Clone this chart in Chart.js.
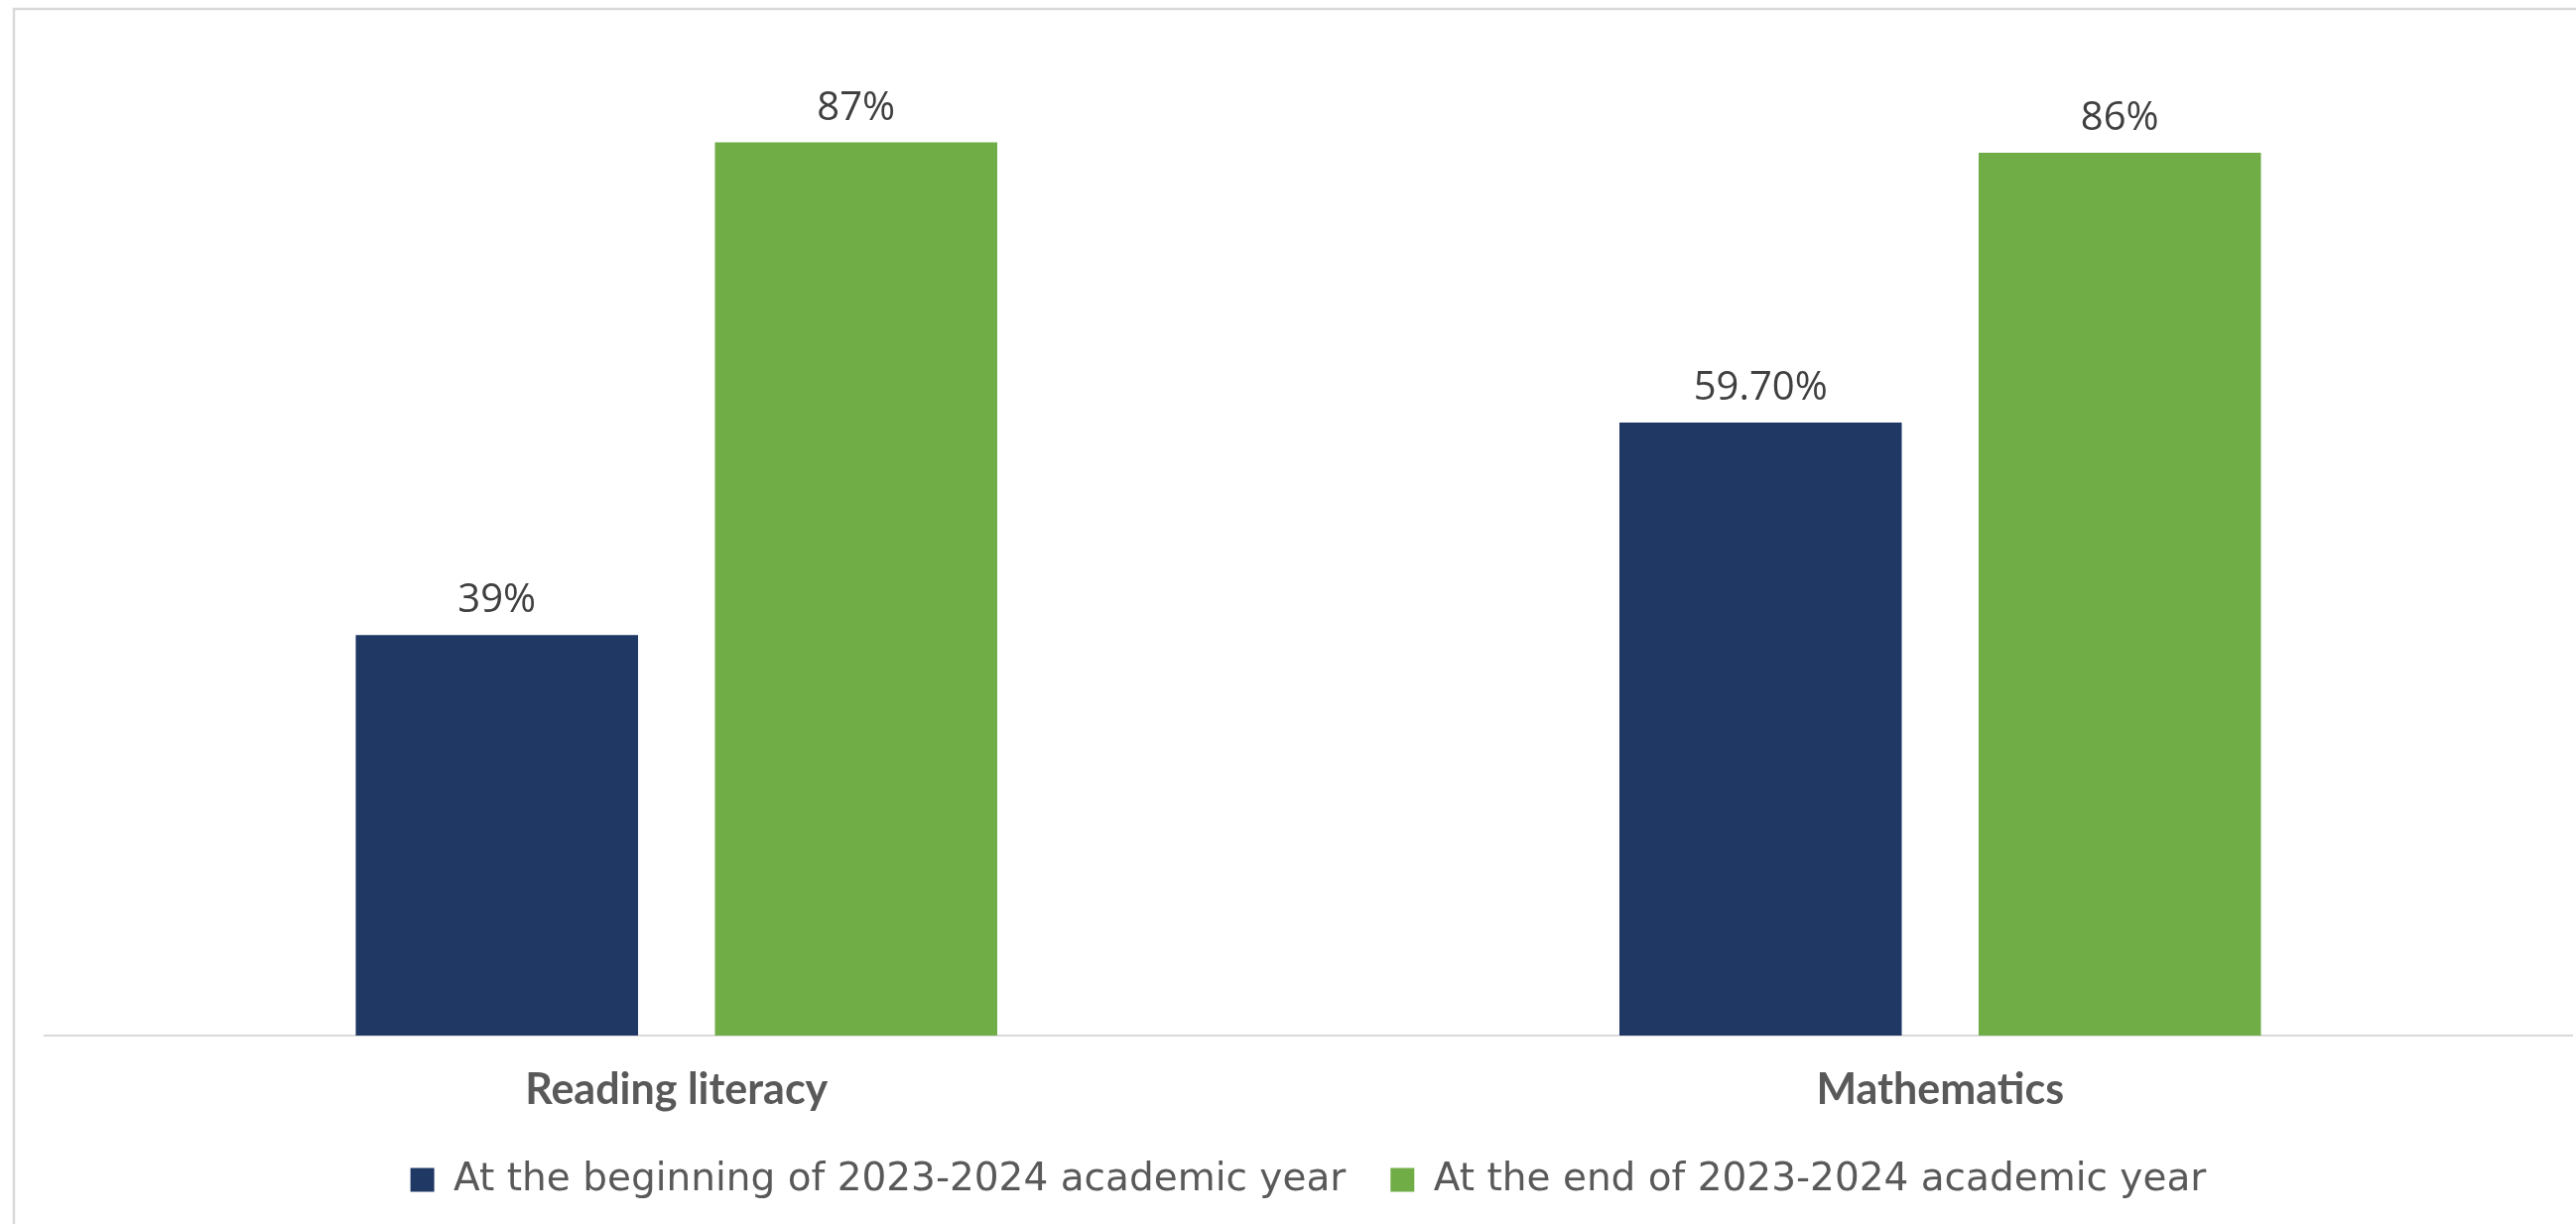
<!DOCTYPE html>
<html>
<head>
<meta charset="utf-8">
<script src="https://cdn.jsdelivr.net/npm/chart.js@4.4.1/dist/chart.umd.min.js"></script>
<style>
  html, body { margin: 0; padding: 0; background: #fff; overflow: hidden; }
  #chart { display: block; }
</style>
</head>
<body>
<canvas id="chart" width="2596" height="1234"></canvas>
<script>
// chart data
const categories = ['Reading literacy', 'Mathematics'];
const seriesNames = ['At the beginning of 2023-2024 academic year', 'At the end of 2023-2024 academic year'];
const beginningValues = [39, 59.7];
const endValues = [87, 86];
const seriesColors = ['#1F3864', '#70AD47'];

const FONT = "'Open Sans', sans-serif";

function pctLabel(v) {
  return (v % 1 === 0 ? v : v.toFixed(2)) + '%';
}

// gray frame behind the chart
const framePlugin = {
  id: 'frame',
  beforeDraw(chart) {
    const ctx = chart.ctx;
    ctx.save();
    ctx.fillStyle = '#fff';
    ctx.fillRect(0, 0, chart.width, chart.height);
    ctx.strokeStyle = '#d9d9d9';
    ctx.lineWidth = 2.5;
    ctx.beginPath();
    ctx.moveTo(14, chart.height);
    ctx.lineTo(14, 9);
    ctx.lineTo(chart.width, 9);
    ctx.stroke();
    ctx.restore();
  }
};

// value labels above bars
const valueLabels = {
  id: 'valueLabels',
  afterDatasetsDraw(chart) {
    const ctx = chart.ctx;
    ctx.save();
    ctx.font = '40px ' + FONT;
    ctx.fillStyle = '#404040';
    ctx.textAlign = 'center';
    ctx.textBaseline = 'alphabetic';
    chart.data.datasets.forEach((ds, i) => {
      chart.getDatasetMeta(i).data.forEach((bar, j) => {
        ctx.fillText(pctLabel(ds.data[j]), bar.x, bar.y - 23);
      });
    });
    ctx.restore();
  }
};

new Chart(document.getElementById('chart'), {
  type: 'bar',
  data: {
    labels: categories,
    datasets: [
      { label: seriesNames[0], data: beginningValues, backgroundColor: seriesColors[0] },
      { label: seriesNames[1], data: endValues, backgroundColor: seriesColors[1] }
    ]
  },
  options: {
    responsive: false,
    animation: false,
    categoryPercentage: 0.5685,
    barPercentage: 0.786,
    layout: { padding: { left: 45, right: 4, top: 9, bottom: 15 } },
    scales: {
      x: {
        grid: { display: false, drawTicks: false },
        border: { display: true, color: '#d9d9d9', width: 2 },
        ticks: {
          color: '#595959',
          padding: 29,
          font: { family: 'Lato, sans-serif', size: 43, weight: 'bold' }
        },
        // drop the extra padding chart.js adds under the labels
        afterFit(scale) { scale.height = 81; }
      },
      y: {
        display: false,
        min: 0,
        max: 100
      }
    },
    plugins: {
      tooltip: { enabled: false },
      legend: {
        position: 'bottom',
        labels: {
          color: '#595959',
          boxWidth: 24,
          boxHeight: 24,
          padding: 45,
          font: { family: "'DejaVu Sans', sans-serif", size: 39 }
        }
      }
    }
  },
  plugins: [framePlugin, valueLabels]
});
</script>
</body>
</html>
